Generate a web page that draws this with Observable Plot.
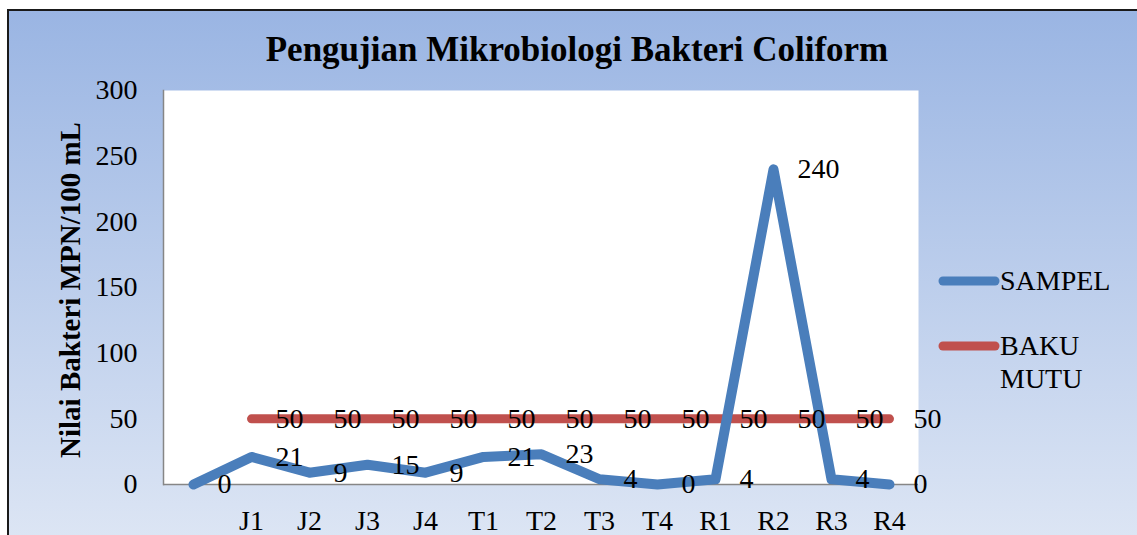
<!DOCTYPE html>
<html>
<head>
<meta charset="utf-8">
<script src="https://cdn.jsdelivr.net/npm/d3@7"></script>
<script src="https://cdn.jsdelivr.net/npm/@observablehq/plot@0.6"></script>
<style>
  html, body { margin: 0; padding: 0; background: #fff; }
  #wrap { position: relative; width: 1137px; height: 535px; overflow: hidden; font-family: "Liberation Serif", "Times New Roman", serif; }
  #bg { position: absolute; left: 7px; top: 9px; width: 1200px; height: 600px; border: 2px solid #1a1a1a;
        background: linear-gradient(to bottom, #9AB5E3 0px, #DCE5F4 525px, #DCE5F4 600px); }
  #chart { position: absolute; left: 0; top: 0; }
  #overlay { position: absolute; left: 0; top: 0; pointer-events: none; }
</style>
</head>
<body>
<div id="wrap">
  <div id="bg"></div>
  <div id="chart"></div>
  <svg id="overlay" width="1137" height="535"></svg>
</div>
<script>
// ---- data ----
const categories = ["", "J1", "J2", "J3", "J4", "T1", "T2", "T3", "T4", "R1", "R2", "R3", "R4"];
const sampelValues = [0, 21, 9, 15, 9, 21, 23, 4, 0, 4, 240, 4, 0];
const bakuCategories = ["J1", "J2", "J3", "J4", "T1", "T2", "T3", "T4", "R1", "R2", "R3", "R4"];
const bakuValues = [50, 50, 50, 50, 50, 50, 50, 50, 50, 50, 50, 50];
const yTicks = [0, 50, 100, 150, 200, 250, 300];
const titleText = "Pengujian Mikrobiologi Bakteri Coliform";
const yLabel = "Nilai Bakteri MPN/100 mL";
const seriesNames = ["SAMPEL", "BAKU MUTU"];
const seriesColors = ["#4A7EBB", "#C0504D"];

const sampelData = categories.map((c, i) => ({cat: c, v: sampelValues[i]}));
const bakuData = bakuCategories.map((c, i) => ({cat: c, v: bakuValues[i]}));

const font = "Liberation Serif";

const chart = Plot.plot({
  width: 1137,
  height: 535,
  marginLeft: 163,
  marginRight: 219,
  marginTop: 90,
  marginBottom: 51,
  style: {background: "transparent", fontFamily: font, fontSize: "28px", color: "black", overflow: "visible"},
  x: {type: "point", domain: categories, range: [190, 891], padding: 0},
  y: {domain: [0, 300]},
  marks: [
    Plot.frame({fill: "white", stroke: null}),
    Plot.ruleY([0], {stroke: "#868686", strokeWidth: 1.5}),
    Plot.frame({anchor: "left", stroke: "#868686", strokeWidth: 1.5}),
    Plot.axisY({ticks: yTicks, tickSize: 0, tickPadding: 26, label: null, fontSize: 28}),
    Plot.axisX({tickSize: 0, tickPadding: 26, label: null, fontSize: 28}),
    Plot.line(bakuData, {x: "cat", y: "v", stroke: seriesColors[1], strokeWidth: 9, strokeLinecap: "round", strokeLinejoin: "round"}),
    Plot.line(sampelData, {x: "cat", y: "v", stroke: seriesColors[0], strokeWidth: 10, strokeLinecap: "round", strokeLinejoin: "round"}),
    Plot.text(bakuData, {x: "cat", y: "v", text: d => String(d.v), dx: 24, textAnchor: "start", fontSize: 28, fill: "black"}),
    Plot.text(sampelData, {x: "cat", y: "v", text: d => String(d.v), dx: 24, textAnchor: "start", fontSize: 28, fill: "black"})
  ]
});
document.getElementById("chart").appendChild(chart);

// ---- title, y label, legend ----
const ov = d3.select("#overlay");
ov.append("text")
  .attr("x", 577).attr("y", 61)
  .attr("text-anchor", "middle")
  .attr("font-family", font).attr("font-weight", "bold").attr("font-size", 35)
  .attr("fill", "black")
  .text(titleText);
ov.append("text")
  .attr("transform", "translate(80,290) rotate(-90)")
  .attr("text-anchor", "middle")
  .attr("font-family", font).attr("font-weight", "bold").attr("font-size", 29)
  .attr("fill", "black")
  .text(yLabel);

const legendRows = [
  {name: seriesNames[0], color: seriesColors[0], y: 281, lines: ["SAMPEL"]},
  {name: seriesNames[1], color: seriesColors[1], y: 346, lines: ["BAKU", "MUTU"]}
];
legendRows.forEach(r => {
  ov.append("line")
    .attr("x1", 943).attr("x2", 995).attr("y1", r.y).attr("y2", r.y)
    .attr("stroke", r.color).attr("stroke-width", 9).attr("stroke-linecap", "round");
  r.lines.forEach((t, i) => {
    ov.append("text")
      .attr("x", 1000).attr("y", r.y + 9 + i * 33)
      .attr("font-family", font).attr("font-size", 28).attr("fill", "black")
      .text(t);
  });
});
</script>
</body>
</html>
